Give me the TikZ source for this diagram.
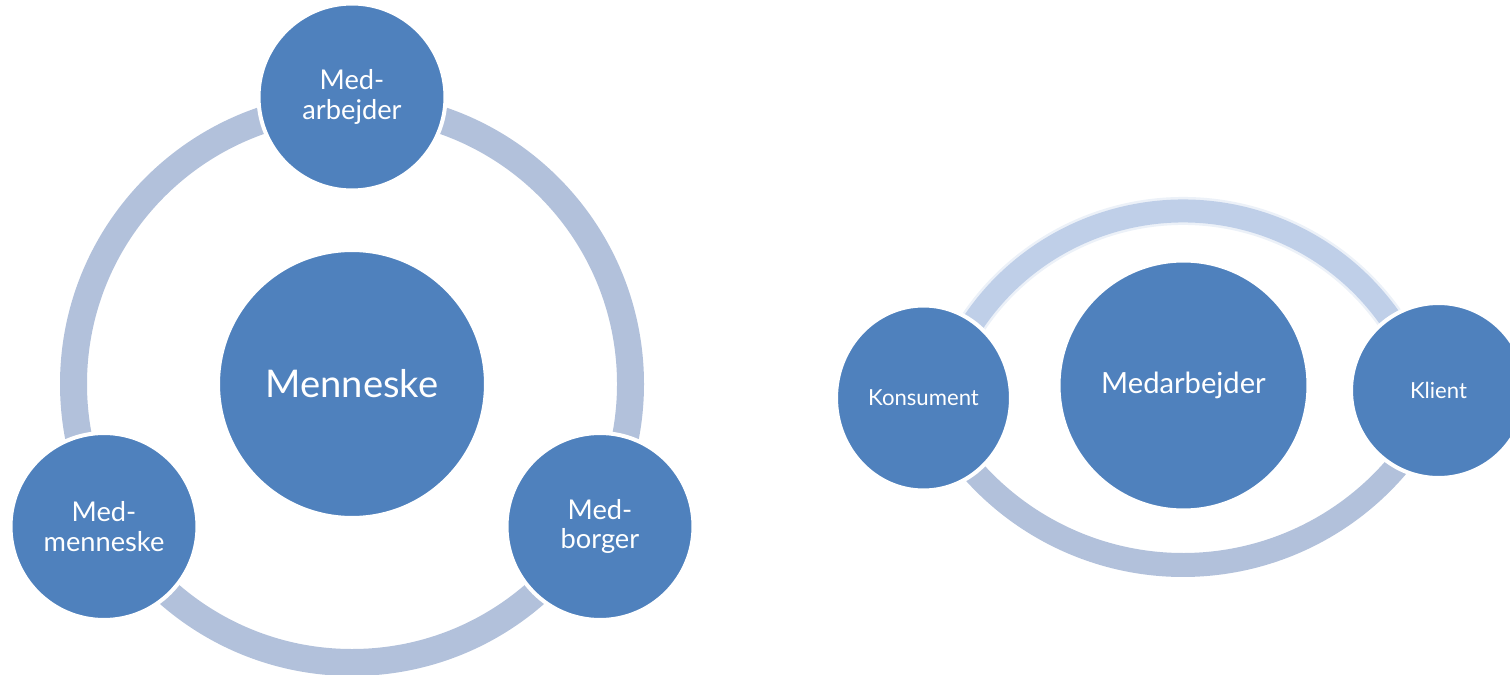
\documentclass[tikz,border=0pt]{standalone}
\usepackage{fontspec}
\setmainfont{Lato}
\usetikzlibrary{shapes.geometric}
\definecolor{bubble}{HTML}{4F81BD}
\definecolor{loop}{HTML}{B2C1DB}
\definecolor{looplight}{HTML}{BFCFE8}
\begin{document}
\begin{tikzpicture}[x=0.02cm, y=0.02cm,
bub/.style={circle, fill=bubble, draw=white, line width=0.08cm, text=white, align=center, inner sep=0pt},
oval/.style={bub, ellipse},
ring/.style={draw=loop, line width=0.54cm},
softring/.style={draw=looplight, line width=0.46cm},
big/.style={font=\fontsize{21.7}{26}\selectfont},
mid/.style={font=\fontsize{15.5}{17}\selectfont},
small/.style={font=\fontsize{12.6}{15}\selectfont}]
\useasboundingbox (0,0) rectangle (1510,-675);
\node[bub, big, minimum size=5.36cm] (lid0) at (352,-384){Menneske};
\draw[ring](lid0.center) circle[radius=278.5];
\node[bub, mid, minimum size=3.74cm] (lid1) at (352,-97){Med-\\arbejder};
\node[bub, mid, minimum size=3.74cm] (lid2) at (104,-526.5){Med-\\menneske};
\node[bub, mid, minimum size=3.74cm] (lid3) at (600,-526.5){Med-\\borger};
\coordinate (rtop) at (1183,-464);
\coordinate (rbot) at (1183,-284);
\draw[softring, opacity=.3, line width=0.56cm]([shift={(152:253)}]rtop) arc[start angle=152, end angle=28, radius=253];
\draw[softring]([shift={(152:253)}]rtop) arc[start angle=152, end angle=28, radius=253];
\draw[ring, line width=0.48cm]([shift={(215:281)}]rbot) arc[start angle=215, end angle=325, radius=281];
\node[bub, font=\fontsize{16.6}{20}\selectfont, minimum size=5cm] (rid0) at (1183.5,-385.5){Medarbejder};
\node[oval, small, minimum width=3.5cm, minimum height=3.7cm] (rid1) at (923.5,-398){Konsument};
\node[bub, small, minimum size=3.5cm] (rid2) at (1438.5,-390.5){Klient};
\end{tikzpicture}
\end{document}
